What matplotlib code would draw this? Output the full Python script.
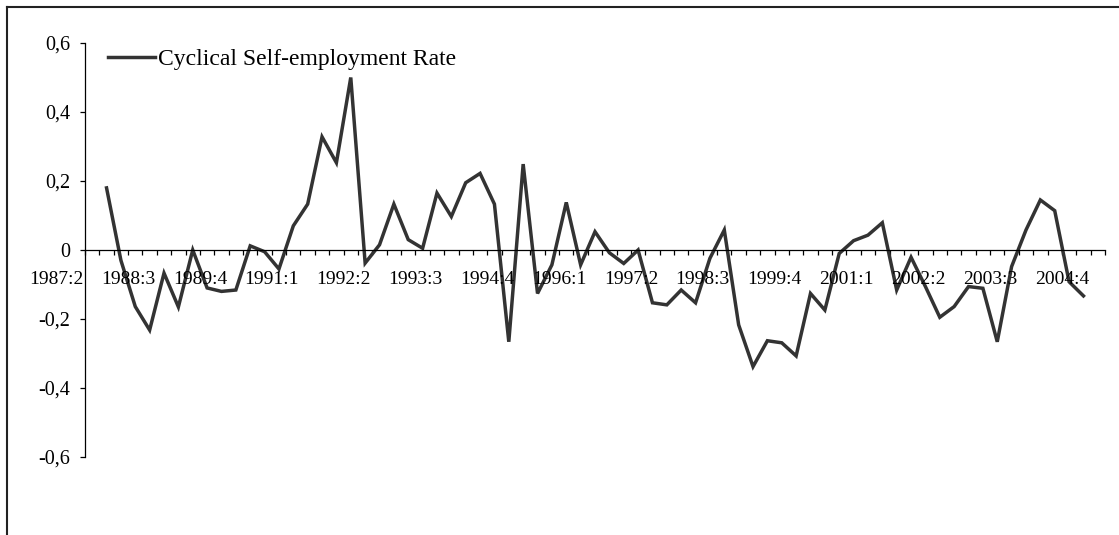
import matplotlib
matplotlib.use("Agg")
import matplotlib.pyplot as plt
from matplotlib.lines import Line2D
import numpy as np

# ======================================================
# Data
# ======================================================

# quarters on the category axis (1987:2 .. 2004:4)
quarters = [f"{1987 + (q + 1) // 4}:{(q + 1) % 4 + 1}" for q in range(71)]

# series starts one quarter after the first category
first_obs = 1
cyc_rate = [
    0.18, -0.03, -0.164, -0.232, -0.067, -0.165, 0.0, -0.11, -0.12, -0.116,
    0.012, -0.005, -0.055, 0.07, 0.133, 0.328, 0.253, 0.50, -0.038, 0.015,
    0.133, 0.03, 0.005, 0.165, 0.097, 0.195, 0.222, 0.133, -0.266, 0.249,
    -0.126, -0.043, 0.138, -0.043, 0.053, -0.008, -0.039, 0.0, -0.153, -0.159,
    -0.116, -0.153, -0.024, 0.058, -0.217, -0.338, -0.263, -0.269, -0.307, -0.126,
    -0.174, -0.01, 0.027, 0.043, 0.079, -0.116, -0.021, -0.106, -0.195, -0.164,
    -0.106, -0.111, -0.266, -0.048, 0.058, 0.145, 0.114, -0.092, -0.133,
]

y_ticks = [-0.6, -0.4, -0.2, 0.0, 0.2, 0.4, 0.6]
label_step = 5

# ======================================================
# Setup
# ======================================================

plt.rcParams["font.family"] = ["Liberation Serif", "DejaVu Serif"]
LINE_COLOR = "#333333"

W, H = 1119, 535
fig = plt.figure(figsize=(W / 100, H / 100), dpi=100)
ax = fig.add_axes([85 / W, 78 / H, 1020 / W, 414 / H])

x = np.arange(first_obs, first_obs + len(cyc_rate))
ax.plot(x, cyc_rate, color=LINE_COLOR, lw=2.5, solid_joinstyle="miter",
        label="Cyclical Self-employment Rate")

ax.set_xlim(-0.5, len(quarters) - 0.5)
ax.set_ylim(-0.6, 0.6)

# ------------------------------------------------------
# Axes styling (Excel look)
# ------------------------------------------------------
for side in ["top", "right"]:
    ax.spines[side].set_visible(False)
ax.spines["bottom"].set_position(("data", 0))
ax.spines["bottom"].set_linewidth(0.9)
ax.spines["left"].set_linewidth(0.9)

ax.set_yticks(y_ticks)
ax.set_yticklabels(["0" if v == 0 else f"{v:.1f}".replace(".", ",") for v in y_ticks])
ax.tick_params(axis="y", direction="out", length=3.6, width=0.9, pad=7, labelsize=14.5)

ax.set_xticks(np.arange(-0.5, len(quarters), 1.0))
ax.set_xticklabels([])
ax.tick_params(axis="x", direction="out", length=3.6, width=0.9)

# category labels every 5 quarters (shifted left as in the source chart)
for k in range(0, len(quarters), label_step):
    ax.annotate(quarters[k], xy=(k - 2.5, 0), xytext=(0, -21.5),
                textcoords="offset points", ha="center", va="center",
                fontsize=14, annotation_clip=False)

leg = ax.legend(loc="center left", bbox_to_anchor=(108 / W, 1 - 59 / H),
                bbox_transform=fig.transFigure, frameon=False, fontsize=17,
                handlelength=2.0, handletextpad=0.1, borderpad=0, borderaxespad=0)

# outer chart frame (only top and left edges visible)
fig.add_artist(Line2D([7 / W, 7 / W], [0, 1 - 7 / H], color="#222222", lw=1.5))
fig.add_artist(Line2D([7 / W, 1], [1 - 7 / H, 1 - 7 / H], color="#222222", lw=1.5))

fig.savefig("out.png", dpi=100)
